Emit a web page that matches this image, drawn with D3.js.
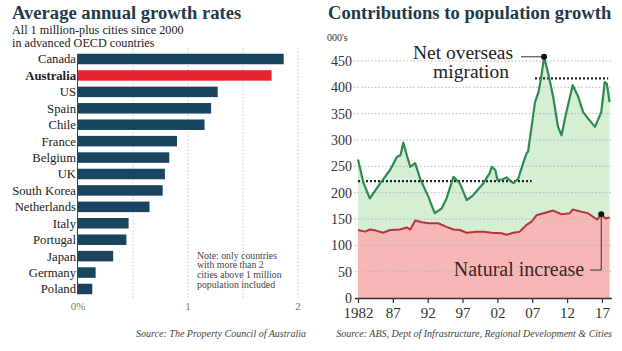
<!DOCTYPE html>
<html>
<head>
<meta charset="utf-8">
<script src="https://cdn.jsdelivr.net/npm/d3@7"></script>
<style>
  body { margin: 0; background: #fff; }
  svg text { font-family: "Liberation Serif", "Times New Roman", serif; }
</style>
</head>
<body>
<svg id="chart" width="622" height="351"></svg>
<script>
// ---- left panel data: average annual growth, % ----
const countries = ["Canada", "Australia", "US", "Spain", "Chile", "France", "Belgium", "UK",
  "South Korea", "Netherlands", "Italy", "Portugal", "Japan", "Germany", "Poland"];
const growthRates = [1.87, 1.76, 1.27, 1.21, 1.15, 0.90, 0.83, 0.79, 0.77, 0.65, 0.46, 0.44, 0.32, 0.16, 0.13];
const growthTicks = [0, 1, 2];
const growthTickLabels = ["0%", "1", "2"];

// ---- right panel data: contributions to population growth, 000's ----
// top line = natural increase + net overseas migration
const totalYears = [1982.0, 1982.8, 1983.7, 1985.2, 1986.6, 1987.6, 1988.1, 1988.5, 1989.0, 1989.5,
  1990.2, 1990.9, 1992.1, 1993.0, 1994.0, 1994.7, 1995.7, 1996.6, 1997.6, 1998.5,
  2000.0, 2000.9, 2001.2, 2001.7, 2002.0, 2002.7, 2003.3, 2004.0, 2004.3, 2005.0,
  2005.7, 2006.2, 2006.4, 2006.9, 2007.4, 2007.9, 2008.3, 2008.7, 2009.3, 2010.0,
  2010.7, 2011.2, 2011.9, 2012.8, 2013.6, 2014.3, 2015.0, 2016.0, 2016.9, 2017.4,
  2017.7, 2018.1];
const totalValues = [263, 218, 189, 218, 243, 268, 271, 295, 271, 249,
  256, 227, 192, 161, 170, 189, 230, 218, 186, 195,
  218, 237, 249, 243, 224, 225, 229, 221, 218, 227,
  256, 275, 278, 325, 372, 391, 420, 458, 426, 382,
  325, 309, 353, 404, 382, 353, 341, 325, 353, 410,
  407, 372];
const naturalYears = [1982.0, 1983.0, 1983.7, 1984.6, 1985.6, 1986.6, 1988.0, 1989.0, 1989.5, 1990.2,
  1991.2, 1992.1, 1993.5, 1994.7, 1995.7, 1996.6, 1997.6, 1999.0, 2000.0, 2001.2,
  2002.6, 2003.3, 2004.3, 2005.2, 2006.2, 2006.9, 2007.6, 2008.6, 2010.0, 2011.2,
  2012.4, 2012.8, 2014.0, 2015.0, 2016.3, 2016.9, 2017.5, 2018.1];
const naturalValues = [129, 126, 130, 128, 124, 129, 130, 134, 130, 147,
  144, 142, 142, 135, 130, 129, 124, 126, 126, 124,
  123, 120, 124, 126, 139, 145, 157, 161, 166, 159,
  161, 168, 164, 161, 149, 159, 151, 153];
const avgStart = [1982.0, 2007.4];
const avgEnd = [2006.9, 2017.9];
const avgValues = [222, 417];
const yearTicks = [1982, 1987, 1992, 1997, 2002, 2007, 2012, 2017];
const yearTickLabels = ["1982", "87", "92", "97", "02", "07", "12", "17"];
const popTicks = [0, 50, 100, 150, 200, 250, 300, 350, 400, 450];

const svg = d3.select("#chart");
const titleColor = "#1f3a4b";

// ================= left panel =================
svg.append("text").attr("x", 12).attr("y", 18.5)
  .style("font-size", "18.6px").style("font-weight", "bold").style("fill", titleColor)
  .text("Average annual growth rates");
svg.append("text").attr("x", 12).attr("y", 33.5)
  .style("font-size", "12.2px").style("fill", "#222")
  .text("All 1 million-plus cities since 2000");
svg.append("text").attr("x", 12).attr("y", 47)
  .style("font-size", "12.2px").style("fill", "#222")
  .text("in advanced OECD countries");

const x = d3.scaleLinear().domain([0, 2]).range([78, 298]);
const y = d3.scaleBand().domain(countries).range([50.8, 297.2])
  .paddingInner(0.36).paddingOuter(0.18);

// dotted gridlines every 0.5
svg.append("g").selectAll("line")
  .data([0.5, 1, 1.5, 2])
  .join("line")
  .attr("x1", d => x(d)).attr("x2", d => x(d))
  .attr("y1", 48).attr("y2", 300)
  .attr("stroke", "#c8c8c8").attr("stroke-width", 1)
  .attr("stroke-dasharray", "1.5,2");

svg.append("g").selectAll("rect")
  .data(countries)
  .join("rect")
  .attr("x", x(0))
  .attr("y", d => y(d))
  .attr("width", (d, i) => x(growthRates[i]) - x(0))
  .attr("height", y.bandwidth())
  .attr("fill", d => d === "Australia" ? "#e8252e" : "#1a4561");

svg.append("line")
  .attr("x1", x(0) - 0.5).attr("x2", x(0) - 0.5)
  .attr("y1", y(countries[0])).attr("y2", y(countries[countries.length - 1]) + y.bandwidth())
  .attr("stroke", "#444").attr("stroke-width", 1);

svg.append("g").selectAll("text")
  .data(countries)
  .join("text")
  .attr("x", 76)
  .attr("y", d => y(d) + y.bandwidth() / 2)
  .attr("dy", "0.35em")
  .attr("text-anchor", "end")
  .style("font-size", "12.7px")
  .style("font-weight", d => d === "Australia" ? "bold" : "normal")
  .style("fill", "#222")
  .text(d => d);

svg.append("g").selectAll("text")
  .data(growthTicks)
  .join("text")
  .attr("x", d => x(d)).attr("y", 310)
  .attr("text-anchor", "middle")
  .style("font-size", "11px").style("fill", "#777")
  .text((d, i) => growthTickLabels[i]);

const note = ["Note: only countries", "with more than 2", "cities above 1 million", "population included"];
svg.append("g").selectAll("text")
  .data(note)
  .join("text")
  .attr("x", 197).attr("y", (d, i) => 258.5 + i * 9.7)
  .style("font-size", "9.8px").style("fill", "#444")
  .text(d => d);

svg.append("text").attr("x", 306).attr("y", 337)
  .attr("text-anchor", "end")
  .style("font-size", "10px").style("font-style", "italic").style("fill", "#444")
  .text("Source: The Property Council of Australia");

// ================= right panel =================
svg.append("text").attr("x", 328).attr("y", 18.5)
  .style("font-size", "18.6px").style("font-weight", "bold").style("fill", titleColor)
  .text("Contributions to population growth");
svg.append("text").attr("x", 327).attr("y", 41)
  .style("font-size", "10px").style("fill", "#333")
  .text("000's");

const xt = d3.scaleLinear().domain([1982, 2018.4]).range([358, 611.7]);
const yv = d3.scaleLinear().domain([0, 450]).range([298, 61]);

const total = totalYears.map((t, i) => [t, totalValues[i]]);
const natural = naturalYears.map((t, i) => [t, naturalValues[i]]);

const area = d3.area().x(d => xt(d[0])).y0(yv(0)).y1(d => yv(d[1]));
const line = d3.line().x(d => xt(d[0])).y(d => yv(d[1]));

svg.append("path").datum(total).attr("d", area).attr("fill", "#d4efd4");
svg.append("path").datum(natural).attr("d", area).attr("fill", "#f7b6b6");

// horizontal dotted gridlines
svg.append("g").selectAll("line")
  .data(popTicks.filter(d => d > 0))
  .join("line")
  .attr("x1", 354).attr("x2", 612)
  .attr("y1", d => yv(d)).attr("y2", d => yv(d))
  .attr("stroke", "#b8b8b8").attr("stroke-width", 1)
  .attr("stroke-dasharray", "1.5,2");

svg.append("g").selectAll("text")
  .data(popTicks)
  .join("text")
  .attr("x", 352).attr("y", d => yv(d))
  .attr("dy", "0.35em")
  .attr("text-anchor", "end")
  .style("font-size", "14px").style("fill", "#333")
  .text(d => d);

// average dotted lines
svg.append("g").selectAll("line")
  .data(avgValues)
  .join("line")
  .attr("x1", (d, i) => xt(avgStart[i])).attr("x2", (d, i) => xt(avgEnd[i]))
  .attr("y1", d => yv(d)).attr("y2", d => yv(d))
  .attr("stroke", "#222").attr("stroke-width", 2.2)
  .attr("stroke-dasharray", "2,2");

svg.append("path").datum(total).attr("d", line)
  .attr("fill", "none").attr("stroke", "#2f8a52").attr("stroke-width", 2.2)
  .attr("stroke-linejoin", "round");
svg.append("path").datum(natural).attr("d", line)
  .attr("fill", "none").attr("stroke", "#b9323c").attr("stroke-width", 2)
  .attr("stroke-linejoin", "round");

// x axis
const xAxis = svg.append("g")
  .attr("transform", `translate(0,${yv(0)})`)
  .call(d3.axisBottom(xt).tickValues(yearTicks).tickSize(5).tickSizeOuter(0)
    .tickFormat((d, i) => yearTickLabels[i]));
xAxis.select(".domain").attr("stroke", "#333").attr("stroke-width", 1.3)
  .attr("d", `M355,0.5H612`);
xAxis.selectAll(".tick line").attr("stroke", "#333").attr("stroke-width", 1.2);
xAxis.selectAll(".tick text")
  .attr("y", 20).attr("dy", 0)
  .style("font-family", "'Liberation Serif', 'Times New Roman', serif")
  .style("font-size", "15px").style("fill", "#333");

// annotations
const peakIdx = totalValues.indexOf(d3.max(totalValues));
const peak = total[peakIdx];
svg.append("line")
  .attr("x1", 521).attr("x2", xt(peak[0]))
  .attr("y1", yv(peak[1])).attr("y2", yv(peak[1]))
  .attr("stroke", "#333").attr("stroke-width", 1);
svg.append("circle").attr("cx", xt(peak[0])).attr("cy", yv(peak[1])).attr("r", 3).attr("fill", "#111");
svg.append("text").attr("x", 463).attr("y", 59).attr("text-anchor", "middle")
  .style("font-size", "19.5px").style("fill", "#222").text("Net overseas");
svg.append("text").attr("x", 471).attr("y", 78).attr("text-anchor", "middle")
  .style("font-size", "19.5px").style("fill", "#222").text("migration");

const natPoint = natural[naturalYears.indexOf(2016.9)];
svg.append("path")
  .attr("d", `M590,270H${xt(natPoint[0])}V${yv(natPoint[1])}`)
  .attr("fill", "none").attr("stroke", "#333").attr("stroke-width", 1);
svg.append("circle").attr("cx", xt(natPoint[0])).attr("cy", yv(natPoint[1])).attr("r", 3).attr("fill", "#111");
svg.append("text").attr("x", 519).attr("y", 276).attr("text-anchor", "middle")
  .style("font-size", "20px").style("fill", "#3a2626").text("Natural increase");

svg.append("text").attr("x", 612).attr("y", 337)
  .attr("text-anchor", "end")
  .style("font-size", "10px").style("font-style", "italic").style("fill", "#444")
  .text("Source: ABS, Dept of Infrastructure, Regional Development & Cities");
</script>
</body>
</html>
